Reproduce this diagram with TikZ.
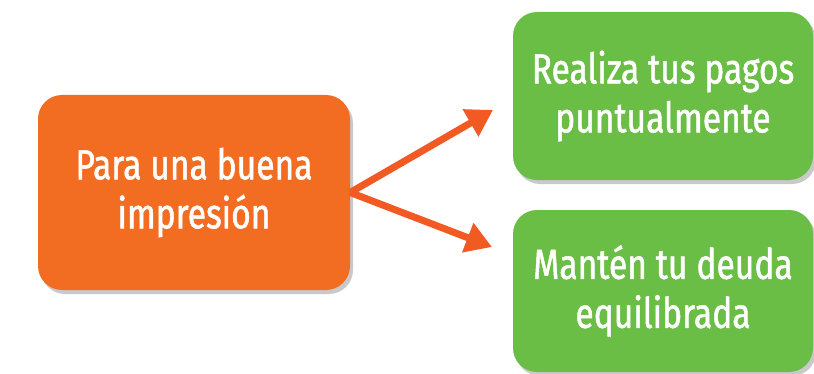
\documentclass[tikz,border=0pt]{standalone}
\usepackage{fontspec}
\setmainfont{Fira Sans}[FakeStretch=0.8, FakeBold=1.2]
\usetikzlibrary{shadows,arrows.meta}
\definecolor{orng}{HTML}{F26D21}
\definecolor{arw}{HTML}{F15A22}
\definecolor{grn}{HTML}{6ABD45}
\begin{document}
\begin{tikzpicture}[x=1pt,y=1pt,
 box/.style={rounded corners=24pt, text=white, align=center, inner sep=0pt,
   font=\fontsize{42}{49}\selectfont,
   drop shadow={shadow xshift=3pt, shadow yshift=-4pt, opacity=0.3, fill=black!70}},
 conn/.style={arw, line width=7pt, -{Triangle[length=26pt,width=30pt]}}]
\useasboundingbox (0,0) rectangle (814,373);
\node[box, fill=orng, minimum width=312pt, minimum height=195pt] (a) at (194,180.5) {Para una buena\\impresión};
\node[box, fill=grn, minimum width=300pt, minimum height=168pt] (b) at (663,277) {Realiza tus pagos\\puntualmente};
\node[box, fill=grn, minimum width=300pt, minimum height=162pt] (c) at (663,82) {Mantén tu deuda\\equilibrada};
\coordinate (t1) at (493,263);
\coordinate (t2) at (492,126);
\draw[conn] (a.east) -- (t1);
\draw[conn] (a.east) -- (t2);
\end{tikzpicture}
\end{document}
